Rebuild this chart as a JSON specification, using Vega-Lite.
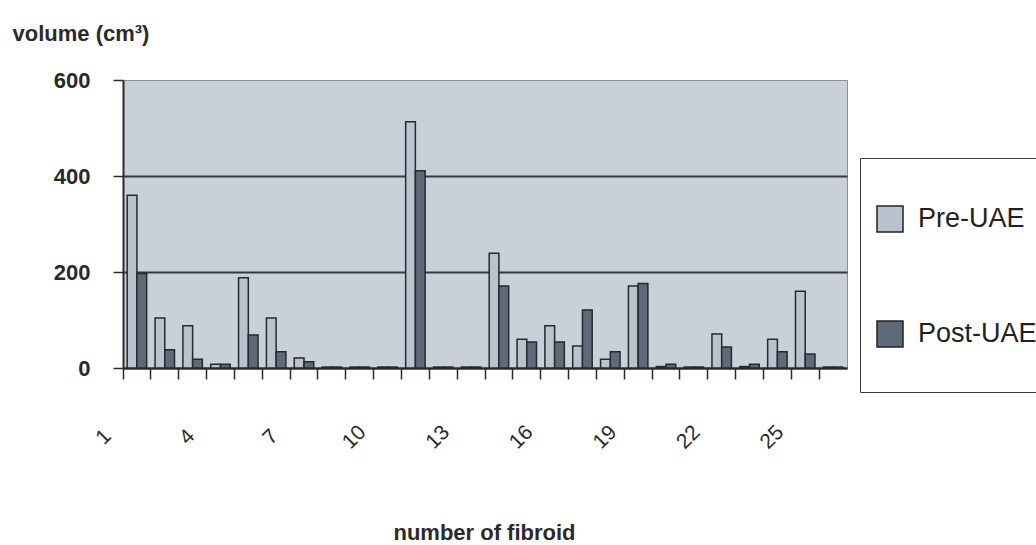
{
  "$schema": "https://vega.github.io/schema/vega-lite/v6.json",
  "width": 724,
  "height": 288,
  "autosize": {"type": "none"},
  "padding": {"left": 123, "top": 80, "right": 189, "bottom": 177},
  "background": "#ffffff",
  "config": {
    "view": {"fill": "#c8d0d9", "stroke": "#8c9299", "strokeWidth": 1},
    "font": "Liberation Sans"
  },
  "data": {
    "values": [
      {"n": 1, "phase": "Pre-UAE", "volume": 360}, {"n": 1, "phase": "Post-UAE", "volume": 197},
      {"n": 2, "phase": "Pre-UAE", "volume": 104}, {"n": 2, "phase": "Post-UAE", "volume": 38},
      {"n": 3, "phase": "Pre-UAE", "volume": 88}, {"n": 3, "phase": "Post-UAE", "volume": 18},
      {"n": 4, "phase": "Pre-UAE", "volume": 8}, {"n": 4, "phase": "Post-UAE", "volume": 8},
      {"n": 5, "phase": "Pre-UAE", "volume": 188}, {"n": 5, "phase": "Post-UAE", "volume": 69},
      {"n": 6, "phase": "Pre-UAE", "volume": 104}, {"n": 6, "phase": "Post-UAE", "volume": 34},
      {"n": 7, "phase": "Pre-UAE", "volume": 21}, {"n": 7, "phase": "Post-UAE", "volume": 13},
      {"n": 8, "phase": "Pre-UAE", "volume": 2}, {"n": 8, "phase": "Post-UAE", "volume": 2},
      {"n": 9, "phase": "Pre-UAE", "volume": 2}, {"n": 9, "phase": "Post-UAE", "volume": 2},
      {"n": 10, "phase": "Pre-UAE", "volume": 2}, {"n": 10, "phase": "Post-UAE", "volume": 2},
      {"n": 11, "phase": "Pre-UAE", "volume": 513}, {"n": 11, "phase": "Post-UAE", "volume": 411},
      {"n": 12, "phase": "Pre-UAE", "volume": 2}, {"n": 12, "phase": "Post-UAE", "volume": 2},
      {"n": 13, "phase": "Pre-UAE", "volume": 2}, {"n": 13, "phase": "Post-UAE", "volume": 2},
      {"n": 14, "phase": "Pre-UAE", "volume": 239}, {"n": 14, "phase": "Post-UAE", "volume": 171},
      {"n": 15, "phase": "Pre-UAE", "volume": 60}, {"n": 15, "phase": "Post-UAE", "volume": 54},
      {"n": 16, "phase": "Pre-UAE", "volume": 88}, {"n": 16, "phase": "Post-UAE", "volume": 54},
      {"n": 17, "phase": "Pre-UAE", "volume": 46}, {"n": 17, "phase": "Post-UAE", "volume": 121},
      {"n": 18, "phase": "Pre-UAE", "volume": 18}, {"n": 18, "phase": "Post-UAE", "volume": 34},
      {"n": 19, "phase": "Pre-UAE", "volume": 171}, {"n": 19, "phase": "Post-UAE", "volume": 176},
      {"n": 20, "phase": "Pre-UAE", "volume": 3}, {"n": 20, "phase": "Post-UAE", "volume": 8},
      {"n": 21, "phase": "Pre-UAE", "volume": 2}, {"n": 21, "phase": "Post-UAE", "volume": 2},
      {"n": 22, "phase": "Pre-UAE", "volume": 71}, {"n": 22, "phase": "Post-UAE", "volume": 44},
      {"n": 23, "phase": "Pre-UAE", "volume": 3}, {"n": 23, "phase": "Post-UAE", "volume": 8},
      {"n": 24, "phase": "Pre-UAE", "volume": 60}, {"n": 24, "phase": "Post-UAE", "volume": 34},
      {"n": 25, "phase": "Pre-UAE", "volume": 160}, {"n": 25, "phase": "Post-UAE", "volume": 29},
      {"n": 26, "phase": "Pre-UAE", "volume": 2}, {"n": 26, "phase": "Post-UAE", "volume": 2}
    ]
  },
  "mark": {"type": "bar", "stroke": "#262a2e", "strokeWidth": 1.5, "opacity": 1},
  "encoding": {
    "x": {
      "field": "n",
      "type": "ordinal",
      "scale": {"paddingInner": 0, "paddingOuter": 0},
      "axis": {
        "title": "number of fibroid",
        "titleFontSize": 22,
        "titleFontWeight": "bold",
        "titleColor": "#2a2a2a",
        "titleX": 361,
        "titleY": 171,
        "titleAlign": "center",
        "titleBaseline": "alphabetic",
        "bandPosition": 0,
        "tickSize": 11,
        "tickColor": "#2a2a2a",
        "tickWidth": 1.5,
        "domainColor": "#2a2a2a",
        "domainWidth": 2,
        "labelAngle": -45,
        "labelAlign": "center",
        "labelBaseline": "middle",
        "labelPadding": 58,
        "labelOffset": -33,
        "labelFontSize": 21,
        "labelColor": "#2a2a2a",
        "labelFontWeight": "normal",
        "labelOverlap": false,
        "labelExpr": "(datum.value - 1) % 3 === 0 ? datum.label : ''",
        "grid": false
      }
    },
    "xOffset": {
      "field": "phase",
      "type": "nominal",
      "sort": ["Pre-UAE", "Post-UAE"],
      "scale": {"paddingInner": 0, "paddingOuter": 0.43}
    },
    "y": {
      "field": "volume",
      "type": "quantitative",
      "scale": {"domain": [0, 600], "nice": false},
      "axis": {
        "title": "volume (cm³)",
        "titleAngle": 0,
        "titleAlign": "left",
        "titleBaseline": "alphabetic",
        "titleX": -111,
        "titleY": -40,
        "titleFontSize": 22,
        "titleFontWeight": "bold",
        "titleColor": "#2a2a2a",
        "values": [0, 200, 400, 600],
        "tickSize": 10,
        "tickColor": "#2a2a2a",
        "tickWidth": 1.5,
        "domainColor": "#2a2a2a",
        "domainWidth": 2,
        "labelFontSize": 22,
        "labelFontWeight": "bold",
        "labelColor": "#2a2a2a",
        "labelPadding": 23,
        "labelBaseline": "middle",
        "labelDy": 2,
        "grid": true,
        "gridColor": {"condition": {"test": "datum.value == 600", "value": "#8c9299"}, "value": "#34393f"},
        "gridWidth": {"condition": {"test": "datum.value == 600", "value": 1}, "value": 2.2}
      }
    },
    "color": {
      "field": "phase",
      "type": "nominal",
      "scale": {"domain": ["Pre-UAE", "Post-UAE"], "range": ["#b9c3ce", "#5e6a77"]},
      "legend": {
        "title": " ",
        "titleFontSize": 20,
        "titlePadding": 11,
        "orient": "none",
        "legendX": 737,
        "legendY": 78,
        "direction": "vertical",
        "strokeColor": "#3a3a3a",
        "fillColor": "#ffffff",
        "padding": 16,
        "symbolType": "square",
        "symbolSize": 676,
        "symbolStrokeColor": "#222222",
        "symbolStrokeWidth": 1.5,
        "symbolOpacity": 1,
        "labelFontSize": 27,
        "labelColor": "#222222",
        "labelOffset": 14,
        "labelLimit": 400,
        "rowPadding": 57,
        "labelExpr": "[datum.label, '']"
      }
    }
  }
}
